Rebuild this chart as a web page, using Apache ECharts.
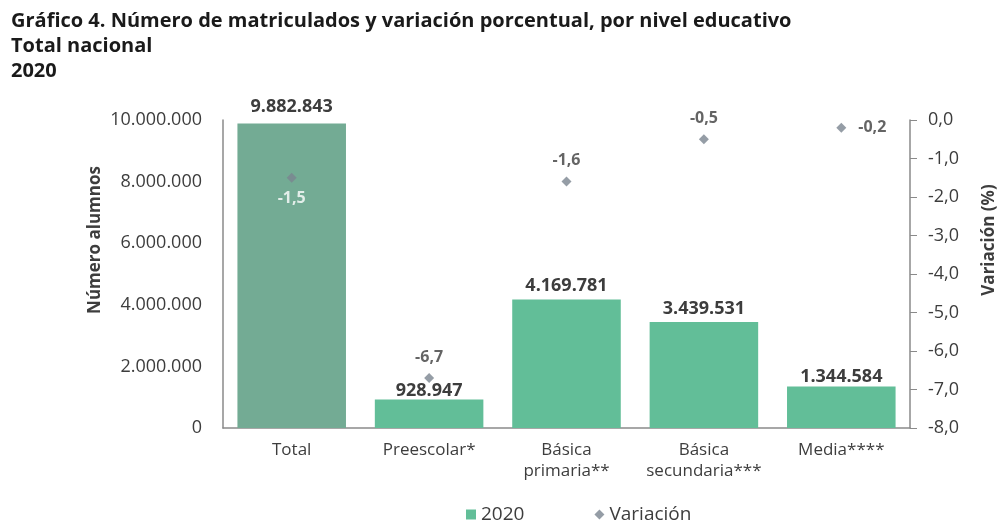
<!DOCTYPE html>
<html><head><meta charset="utf-8">
<script src="https://cdn.jsdelivr.net/npm/echarts@6/dist/echarts.min.js"></script>
<style>html,body{margin:0;padding:0;background:#fff}#c{width:1003px;height:523px}</style>
</head><body><div id="c"></div>
<script>
const categories = ['Total', 'Preescolar*', 'Básica\nprimaria**', 'Básica\nsecundaria***', 'Media****'];
const matriculados = [9882843, 928947, 4169781, 3439531, 1344584];
const variacion = [-1.5, -6.7, -1.6, -0.5, -0.2];

const FONT = '"Open Sans", sans-serif';
const TXT = '#3d3d3d';
const fmtInt = v => String(Math.round(v)).replace(/\B(?=(\d{3})+(?!\d))/g, '.');
const fmtDec = v => v.toFixed(1).replace('.', ',');

const barColors = ['#73ab94', '#62be98', '#62be98', '#62be98', '#62be98'];
const barLabelDist = [8, 0, 5, 4, 1];
const varLabelPos = ['bottom', 'top', 'top', 'top', 'right'];
const varLabelColor = ['#ffffff', TXT, TXT, TXT, TXT];
const varLabelDist = [8, 8, 8, 8, 12];

const chart = echarts.init(document.getElementById('c'));
chart.setOption({
  animation: false,
  textStyle: { fontFamily: FONT },
  title: {
    text: 'Gráfico 4. Número de matriculados y variación porcentual, por nivel educativo\nTotal nacional\n2020',
    left: 6, top: 4,
    textStyle: { fontFamily: FONT, fontWeight: 'bold', fontSize: 20, color: '#1a1a1a', lineHeight: 25 }
  },
  legend: {
    top: 500, left: 461,
    itemGap: 70,
    textStyle: { fontSize: 19, color: TXT, fontFamily: FONT },
    data: [
      { name: '2020', icon: 'rect', itemStyle: { color: '#62be98' } },
      { name: 'Variación', icon: 'diamond', itemStyle: { color: '#7b8590' } }
    ],
    itemWidth: 10, itemHeight: 10
  },
  graphic: [
    { type: 'text', x: 95, y: 240, rotation: Math.PI / 2,
      style: { text: 'Número alumnos', fontSize: 17, fontWeight: 'bold', fill: TXT, fontFamily: FONT,
               textAlign: 'center', textVerticalAlign: 'middle' } },
    { type: 'text', x: 989, y: 240, rotation: Math.PI / 2,
      style: { text: 'Variación (%)', fontSize: 17, fontWeight: 'bold', fill: TXT, fontFamily: FONT,
               textAlign: 'center', textVerticalAlign: 'middle' } }
  ],
  grid: { left: 223, right: 93, top: 120, bottom: 95 },
  xAxis: {
    type: 'category', data: categories,
    axisLine: { lineStyle: { color: '#8a8a8a', width: 1.5 } },
    axisTick: { show: false },
    axisLabel: { color: TXT, fontSize: 17, margin: 12, lineHeight: 21, interval: 0, fontFamily: FONT }
  },
  yAxis: [
    {
      type: 'value', min: 0, max: 10000000, interval: 2000000,
      axisLine: { show: true, lineStyle: { color: '#8a8a8a', width: 1.5 } },
      axisTick: { show: false },
      splitLine: { show: false },
      axisLabel: { color: TXT, fontSize: 18, margin: 21, formatter: v => fmtInt(v), fontFamily: FONT }
    },
    {
      type: 'value', min: -8, max: 0, interval: 1, position: 'right',
      axisLine: { show: true, lineStyle: { color: '#8a8a8a', width: 1.5 } },
      axisTick: { show: true, inside: false, length: 7, lineStyle: { color: '#8a8a8a' } },
      splitLine: { show: false },
      axisLabel: { color: TXT, fontSize: 18, margin: 18, formatter: v => fmtDec(v), fontFamily: FONT }
    }
  ],
  series: [
    {
      name: '2020', type: 'bar', yAxisIndex: 0, barCategoryGap: '21%',
      data: matriculados.map((v, i) => ({ value: v, itemStyle: { color: barColors[i] },
        label: { distance: barLabelDist[i] } })),
      label: { show: true, position: 'top', color: TXT, fontWeight: 'bold', fontSize: 18,
               fontFamily: FONT, formatter: p => fmtInt(p.value) }
    },
    {
      name: 'Variación', type: 'scatter', yAxisIndex: 1, symbol: 'diamond', symbolSize: 10,
      itemStyle: { color: '#7b8590' },
      data: variacion.map((v, i) => ({
        value: v,
        label: { show: true, position: varLabelPos[i], distance: varLabelDist[i], color: varLabelColor[i] }
      })),
      label: { show: true, fontWeight: 'bold', fontSize: 16, fontFamily: FONT, formatter: p => fmtDec(p.value) }
    }
  ]
});
</script></body></html>
